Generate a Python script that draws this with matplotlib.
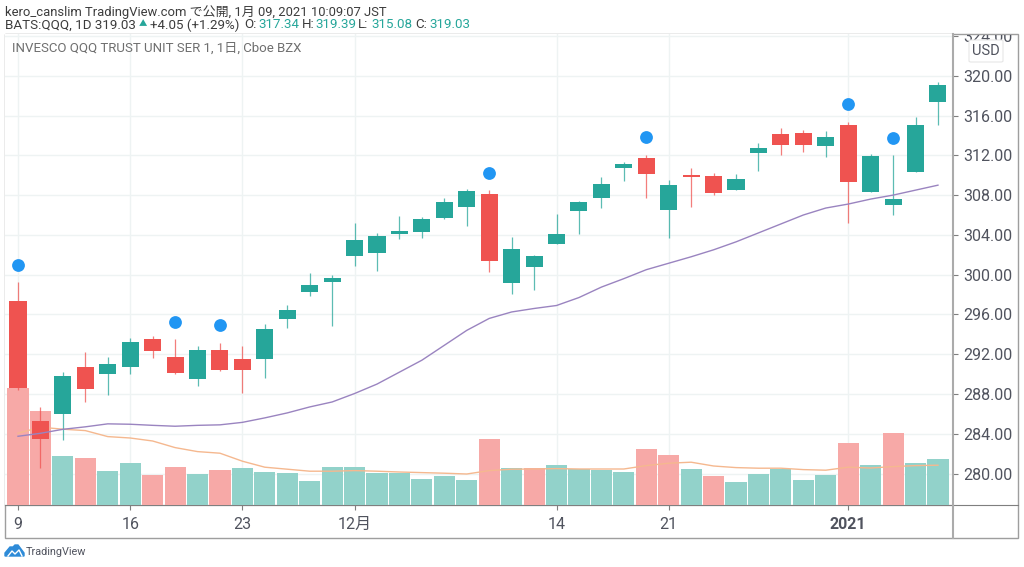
import matplotlib
matplotlib.use("Agg")
import matplotlib.pyplot as plt
from matplotlib.lines import Line2D
from matplotlib.patches import FancyBboxPatch, Polygon, Rectangle

plt.rcParams['font.family'] = ['Roboto', 'Noto Sans CJK JP', 'DejaVu Sans']

W, H = 1024, 567

# price data
opens = [297.4, 285.3, 286.0, 290.75, 290.0, 290.7, 293.5, 291.7, 289.5, 292.4, 291.5, 291.5, 295.5, 298.3,
         299.3, 301.9, 302.2, 304.1, 304.3, 305.7, 306.8, 308.1, 299.2, 300.8, 303.1, 306.4, 307.7, 310.7,
         311.7, 306.5, 310.0, 309.9, 308.5, 312.25, 314.1, 314.2, 312.9, 315.1, 308.3, 307.0, 310.3, 317.34]
closes = [288.6, 283.5, 289.8, 288.5, 291.0, 293.2, 292.3, 290.1, 292.4, 290.4, 290.4, 294.5, 296.4, 299.0,
          299.65, 303.5, 303.9, 304.4, 305.6, 307.3, 308.4, 301.4, 302.6, 301.9, 304.1, 307.3, 309.1, 311.1,
          310.1, 309.0, 309.8, 308.2, 309.6, 312.7, 313.0, 313.0, 313.85, 309.3, 311.9, 307.6, 315.0, 319.03]
highs = [299.3, 286.7, 290.25, 292.2, 291.7, 293.6, 293.8, 293.5, 292.8, 293.1, 292.8, 295.05, 297.0, 300.2,
         300.0, 305.2, 304.2, 305.9, 305.8, 307.7, 308.6, 308.5, 303.8, 302.0, 306.1, 307.4, 309.8, 311.3,
         312.0, 309.5, 310.7, 310.2, 310.1, 313.2, 314.7, 314.5, 314.4, 315.4, 312.15, 312.0, 315.9, 319.39]
lows = [288.4, 280.6, 283.4, 287.2, 287.9, 290.0, 291.6, 290.0, 288.8, 290.3, 288.1, 289.6, 294.6, 297.9,
        294.85, 300.9, 300.4, 303.6, 303.7, 305.6, 304.9, 300.3, 298.1, 298.5, 303.1, 304.1, 306.7, 309.4,
        307.7, 303.7, 306.8, 308.0, 308.5, 310.4, 312.05, 312.35, 311.8, 305.2, 308.3, 306.0, 310.3, 315.08]
price_ma = [283.75, 284.05, 284.45, 284.7, 285.0, 284.96, 284.85, 284.76, 284.85, 284.9, 285.15, 285.6, 286.1, 286.7,
            287.2, 288.05, 289.0, 290.2, 291.4, 292.9, 294.4, 295.6, 296.25, 296.6, 296.9, 297.7, 298.75, 299.6,
            300.5, 301.15, 301.8, 302.5, 303.3, 304.2, 305.1, 306.0, 306.7, 307.1, 307.6, 308.0, 308.5, 309.0]

# volume in millions of shares
volumes = [58.4, 46.9, 24.5, 23.5, 17.0, 20.9, 15.0, 19.2, 15.7, 17.7, 18.4, 16.7, 16.0, 12.0,
           19.0, 19.2, 16.2, 15.9, 13.2, 14.4, 12.7, 33.2, 18.7, 18.4, 19.9, 17.9, 17.4, 16.5,
           28.0, 25.2, 18.0, 14.7, 11.5, 15.5, 17.9, 12.7, 15.2, 30.9, 20.2, 36.0, 20.9, 23.2]
volume_ma = [35.9, 38.9, 37.9, 37.2, 34.2, 33.5, 32.0, 28.7, 26.7, 25.9, 21.9, 18.9, 17.9, 16.9,
             16.9, 17.2, 16.9, 16.5, 16.2, 15.9, 15.5, 17.2, 17.9, 18.0, 18.2, 18.0, 18.0, 18.0,
             19.7, 20.9, 21.4, 19.5, 18.7, 18.4, 18.4, 17.7, 17.4, 18.9, 18.5, 19.2, 19.7, 19.9]
# volume bars follow their own up/down flag, not the candle body
volume_up = [0, 0, 1, 0, 1, 1, 0, 0, 1, 0, 1, 1, 1, 1,
             1, 1, 1, 1, 1, 1, 1, 0, 1, 0, 1, 1, 1, 1,
             0, 0, 1, 0, 1, 1, 1, 1, 1, 0, 1, 0, 1, 1]

# dots sitting above some of the candles
dot_idx = [0, 7, 9, 21, 28, 37, 39]
dot_price = [301.0, 295.25, 294.95, 310.25, 313.85, 317.2, 313.75]

day_ticks = [0, 5, 10, 15, 24, 29, 37]
day_labels = ['9', '16', '23', '12月', '14', '21', '2021']
price_ticks = [280, 284, 288, 292, 296, 300, 304, 308, 312, 316, 320, 324]

UP = '#26a69a'
DOWN = '#ef5350'
UP_VOL = '#92d2ca'
DOWN_VOL = '#f7a9a7'
TEXT = '#50535e'
FRAME = '#9e9e9e'

idx = list(range(len(opens)))
colors = [UP if c >= o else DOWN for o, c in zip(opens, closes)]
vol_colors = [UP_VOL if u else DOWN_VOL for u in volume_up]
bottoms = [min(o, c) for o, c in zip(opens, closes)]
heights = [abs(c - o) for o, c in zip(opens, closes)]

fig = plt.figure(figsize=(W / 100, H / 100), dpi=100, facecolor='white')
rect = [5 / W, 1 - 505 / H, 948 / W, 471 / H]

# three layers: grid and ticks, then volume, then candles
ax = fig.add_axes(rect, zorder=1)
ax_vol = fig.add_axes(rect, zorder=2)
ax_top = fig.add_axes(rect, zorder=3)

xlim = (-0.58, 41.67)
ylim = (276.84, 324.2)
for a in (ax, ax_top):
    a.set_xlim(xlim)
    a.set_ylim(ylim)
ax_vol.set_xlim(xlim)
ax_vol.set_ylim(0, 235.5)

ax.set_xticks(day_ticks)
ax.set_xticklabels(day_labels)
ax.set_yticks(price_ticks)
ax.set_yticklabels(['%.2f' % p for p in price_ticks])
ax.yaxis.tick_right()
ax.grid(True, color='#eef3f3', lw=1)
ax.tick_params(axis='y', length=3.6, width=0.8, color='#7f7f7f', labelcolor=TEXT, labelsize=11.5, pad=3.5)
ax.tick_params(axis='x', length=3.6, width=0.8, color='#7f7f7f', labelcolor=TEXT, labelsize=11.5, pad=5)
ax.get_xticklabels()[-1].set_fontweight('bold')
for s in ax.spines.values():
    s.set_visible(False)
ax.spines['bottom'].set_visible(True)
ax.spines['bottom'].set_color('#7f7f7f')
ax.spines['bottom'].set_linewidth(0.8)

# top label of the price scale is cut off by the frame
clip = Rectangle((953 / W, 1 - 505 / H), 65 / W, 470 / H, transform=fig.transFigure)
for lbl in ax.get_yticklabels():
    lbl.set_clip_path(clip)
    lbl.set_clip_on(True)

ax_vol.bar(idx, volumes, width=0.94, color=vol_colors)
ax_vol.plot(idx, volume_ma, color='#f5b88f', lw=1)
ax_vol.axis('off')

ax_top.vlines(idx, lows, highs, colors=colors, lw=0.9, alpha=0.75)
ax_top.bar(idx, heights, bottom=bottoms, width=0.76, color=colors)
ax_top.plot(idx, price_ma, color='#9a84c0', lw=1)
ax_top.scatter(dot_idx, dot_price, s=85, color='#2196f3', linewidths=0, zorder=5)
ax_top.axis('off')

# frame round the chart
fig.add_artist(Rectangle((5 / W, 1 - 538 / H), 1013 / W, 504 / H, transform=fig.transFigure,
                         fill=False, edgecolor=FRAME, lw=1))
fig.add_artist(Line2D([5 / W, 1018 / W], [1 - 505 / H] * 2, color='#7f7f7f', lw=0.8))
fig.add_artist(Line2D([953 / W] * 2, [1 - 538 / H, 1 - 34 / H], color='#ababab', lw=1.5))

# currency box
fig.add_artist(FancyBboxPatch((969 / W, 1 - 62 / H), 34 / W, 22 / H, boxstyle='round,pad=0,rounding_size=0.002',
                              transform=fig.transFigure, facecolor='white', edgecolor='#e6e6e6', lw=0.8, zorder=6))
fig.text(986 / W, 1 - 51 / H, 'USD', color=TEXT, fontsize=10.5, ha='center', va='center', zorder=7)


def label(x, y, s, color='#3c3c3c', size=9.6):
    fig.text(x / W, 1 - y / H, s, color=color, fontsize=size, ha='left', va='center')


label(5, 12, 'kero_canslim TradingView.com で公開, 1月 09, 2021 10:09:07 JST', size=9.35)
label(5, 25, 'BATS:QQQ, 1D 319.03')
label(150, 25, '+4.05 (+1.29%)')
fig.text(143 / W, 1 - 24 / H, '▲', color=UP, fontsize=6, ha='center', va='center')
for x, s in [(244, 'O:'), (302, 'H:'), (358, 'L:'), (415, 'C:')]:
    label(x, 25, s)
for x, s in [(258, '317.34'), (315, '319.39'), (371, '315.08'), (429, '319.03')]:
    label(x, 25, s, color=UP)
label(12, 48, 'INVESCO QQQ TRUST UNIT SER 1, 1日, Cboe BZX', color='#6f6f6f', size=9.5)

# TradingView logo
logo = [(5, 556), (5, 553), (10, 547), (13, 547), (15, 545), (18, 545), (21, 549), (24, 553), (24, 556)]
fig.add_artist(Polygon([(x / W, 1 - y / H) for x, y in logo], transform=fig.transFigure, color='#2e8bd8'))
fig.add_artist(Line2D([x / W for x in (8, 12, 15, 19, 22)], [1 - y / H for y in (556, 551, 554, 550, 556)],
                      color='white', lw=1))
label(26, 552, 'TradingView', color='#50535e', size=7.8)

fig.savefig('out.png', dpi=100)
